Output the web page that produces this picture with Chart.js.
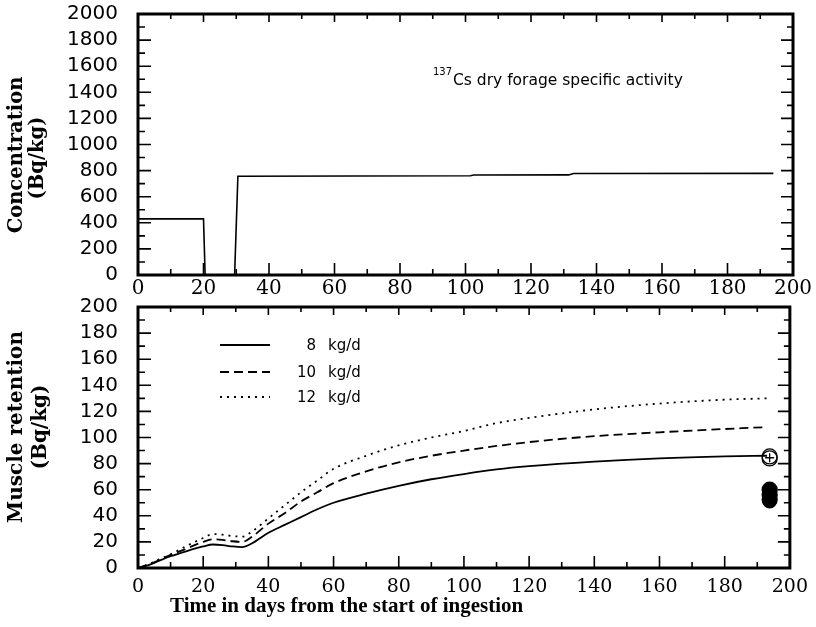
<!DOCTYPE html>
<html>
<head>
<meta charset="utf-8">
<script src="https://cdn.jsdelivr.net/npm/chart.js@4.4.1/dist/chart.umd.min.js"></script>
<style>
  html, body { margin: 0; padding: 0; background: #fff; }
  #wrap { position: relative; width: 816px; height: 627px; overflow: hidden; }
  canvas { position: absolute; left: 0; }
  #top { top: 0; }
  #bottom { top: 285px; }
</style>
</head>
<body>
<div id="wrap">
  <canvas id="top" width="816" height="300"></canvas>
  <canvas id="bottom" width="816" height="342"></canvas>
</div>
<script>
// upper panel - 137Cs in dry forage (Bq/kg)
const forageDays = [0, 20, 20.5, 29.5, 30.5, 101.5, 102.5, 131.5, 133, 194];
const forageConc = [430, 430, 0, 0, 757, 761, 766, 767, 778, 779];

// lower panel - muscle retention (Bq/kg) for three intake rates
const retentionDays = [0, 3, 6, 10, 15, 20, 23, 26, 29, 32, 35, 40, 45, 50, 55, 60, 70, 80, 90, 100, 110, 120, 140, 160, 180, 193];
const retention8  = [0, 2, 5, 9, 13, 16.5, 18, 17.5, 16.5, 16, 19, 27, 33, 39, 45, 50, 57, 63, 68, 72, 75.5, 78, 81.5, 84, 85.5, 86];
const retention10 = [0, 2.5, 5.5, 10, 15, 20, 22, 21.5, 20.5, 20, 24, 34, 42, 51, 58, 65, 74, 81, 86, 90, 93.5, 96.5, 101, 104, 106.5, 108];
const retention12 = [0, 2.5, 6, 10.5, 17, 23, 26, 25.5, 24.5, 24, 28, 38, 48, 58, 67, 76, 86, 94, 100, 105, 111, 115, 121.5, 126, 129, 130];
const intakeRates = [8, 10, 12];
const rateUnit = 'kg/d';

// measured points at the end of the trial
const obsDay = 193.8;
const obsOpen = [85.5, 84];
const obsFilled = [60, 56, 52.5];
const obsRings = [58, 51];

const dayMax = 200;

// box round the plot with inward ticks on all four sides
const frame = {
  id: 'frame',
  afterDatasetsDraw(chart, args, opts) {
    const { ctx, chartArea: a, scales: { x, y } } = chart;
    ctx.save();
    ctx.strokeStyle = '#000';
    ctx.lineWidth = 1.6;
    ctx.beginPath();
    for (let i = 0; x.min + i * opts.xStep <= x.max + 1e-6; i++) {
      const px = x.getPixelForValue(x.min + i * opts.xStep);
      const big = i % 2 === 0;
      ctx.moveTo(px, a.bottom); ctx.lineTo(px, a.bottom - (big ? 12 : 6));
      ctx.moveTo(px, a.top); ctx.lineTo(px, a.top + (big ? 8 : 5));
    }
    for (let i = 0; y.min + i * opts.yStep <= y.max + 1e-6; i++) {
      const py = y.getPixelForValue(y.min + i * opts.yStep);
      const big = i % 2 === 0;
      ctx.moveTo(a.left, py); ctx.lineTo(a.left + (big ? 13 : 7), py);
      ctx.moveTo(a.right, py); ctx.lineTo(a.right - (big ? 12 : 6), py);
    }
    ctx.stroke();
    ctx.lineWidth = 3;
    ctx.strokeRect(a.left, a.top, a.width, a.height);
    ctx.restore();
  }
};

function vtext(ctx, text, x, y, font) {
  ctx.save();
  ctx.translate(x, y);
  ctx.rotate(-Math.PI / 2);
  ctx.font = font;
  ctx.textAlign = 'center';
  ctx.textBaseline = 'middle';
  ctx.fillText(text, 0, 0);
  ctx.restore();
}

const topNotes = {
  id: 'topNotes',
  afterDraw(chart) {
    const ctx = chart.ctx;
    ctx.save();
    ctx.fillStyle = '#000';
    vtext(ctx, 'Concentration', 17, 155, 'bold 19.5px "DejaVu Serif"');
    vtext(ctx, '(Bq/kg)', 38, 158, 'bold 19.5px "DejaVu Serif"');
    ctx.textBaseline = 'alphabetic';
    ctx.textAlign = 'left';
    ctx.font = '10px "DejaVu Sans"';
    ctx.fillText('137', 433, 75);
    ctx.font = '15.5px "DejaVu Sans"';
    ctx.fillText('Cs dry forage specific activity', 453, 85);
    ctx.restore();
  }
};

const bottomNotes = {
  id: 'bottomNotes',
  afterDraw(chart) {
    const ctx = chart.ctx;
    ctx.save();
    ctx.fillStyle = '#000';
    vtext(ctx, 'Muscle retention', 17, 142, 'bold 20px "DejaVu Serif"');
    vtext(ctx, '(Bq/kg)', 41, 142, 'bold 20px "DejaVu Serif"');
    ctx.font = 'bold 21px "Liberation Serif"';
    ctx.textAlign = 'left';
    ctx.textBaseline = 'alphabetic';
    ctx.fillText('Time in days from the start of ingestion', 170, 327);

    // legend
    const rows = [60, 87, 112];
    chart.data.datasets.slice(0, intakeRates.length).forEach((ds, i) => {
      const yy = rows[i];
      ctx.strokeStyle = '#000';
      ctx.lineWidth = ds.borderWidth;
      ctx.setLineDash(ds.borderDash || []);
      ctx.beginPath();
      ctx.moveTo(220, yy); ctx.lineTo(270, yy);
      ctx.stroke();
      ctx.setLineDash([]);
      ctx.font = '15px "DejaVu Sans"';
      ctx.textBaseline = 'middle';
      ctx.textAlign = 'right';
      ctx.fillText(String(intakeRates[i]), 316, yy + 1);
      ctx.textAlign = 'left';
      ctx.fillText(rateUnit, 328, yy + 1);
    });
    ctx.restore();
  }
};

const pts = (xs, ys) => xs.map((d, i) => ({ x: d, y: ys[i] }));
const curve = (vals, dash) => ({
  label: '',
  data: pts(retentionDays, vals),
  borderColor: '#000',
  borderWidth: 1.8,
  borderDash: dash,
  pointRadius: 0,
  cubicInterpolationMode: 'monotone'
});
const obs = (vals, fill, style, r) => ({
  type: 'scatter',
  data: vals.map(v => ({ x: obsDay, y: v })),
  pointStyle: style,
  pointRadius: r,
  pointBorderColor: '#000',
  pointBorderWidth: 1.3,
  pointBackgroundColor: fill
});

const plain = v => String(v);
const xTicksTop = { stepSize: 20, padding: 2, color: '#000', maxRotation: 0, autoSkip: false, callback: plain, font: { family: 'DejaVu Serif', size: 20 } };
const xTicksBottom = { stepSize: 20, padding: 8, color: '#000', maxRotation: 0, autoSkip: false, callback: plain, font: { family: 'DejaVu Serif', size: 19 } };
const yTicks = step => ({ stepSize: step, padding: 20, color: '#000', autoSkip: false, callback: plain, font: { family: 'DejaVu Sans', size: 20 } });
const noGrid = { display: false, drawTicks: false };
// fixed axis sizes so the plot box lands where the original has it
const fitY = s => { s.width = 138; s.paddingTop = 0; s.paddingBottom = 0; };

new Chart(document.getElementById('top'), {
  type: 'line',
  data: {
    datasets: [{
      data: pts(forageDays, forageConc),
      borderColor: '#000',
      borderWidth: 1.6,
      pointRadius: 0,
      tension: 0
    }]
  },
  options: {
    responsive: false,
    animation: false,
    layout: { padding: { top: 14, right: 23, left: 0, bottom: 0 } },
    scales: {
      x: { type: 'linear', min: 0, max: dayMax, ticks: xTicksTop, grid: noGrid, border: { display: false },
           afterFit(s) { s.height = 25; } },
      y: { min: 0, max: 2000, ticks: yTicks(200), grid: noGrid, border: { display: false }, afterFit: fitY }
    },
    plugins: { legend: { display: false }, tooltip: { enabled: false }, frame: { xStep: 10, yStep: 100 } }
  },
  plugins: [frame, topNotes]
});

new Chart(document.getElementById('bottom'), {
  type: 'line',
  data: {
    datasets: [
      curve(retention8, []),
      curve(retention10, [9, 5]),
      curve(retention12, [2, 5]),
      obs(obsOpen, 'rgba(0,0,0,0)', 'circle', 7.5),
      obs(obsFilled, '#000', 'circle', 7.5),
      obs(obsRings, 'rgba(0,0,0,0)', 'circle', 6.5),
      obs([84.5], 'rgba(0,0,0,0)', 'cross', 4.5)
    ]
  },
  options: {
    responsive: false,
    animation: false,
    layout: { padding: { top: 22, right: 22, left: 0, bottom: 0 } },
    scales: {
      x: { type: 'linear', min: 0, max: dayMax, ticks: xTicksBottom, grid: noGrid, border: { display: false },
           afterFit(s) { s.height = 59; } },
      y: { min: 0, max: 200, ticks: yTicks(20), grid: noGrid, border: { display: false }, afterFit: fitY }
    },
    plugins: { legend: { display: false }, tooltip: { enabled: false }, frame: { xStep: 10, yStep: 10 } }
  },
  plugins: [frame, bottomNotes]
});
</script>
</body>
</html>
